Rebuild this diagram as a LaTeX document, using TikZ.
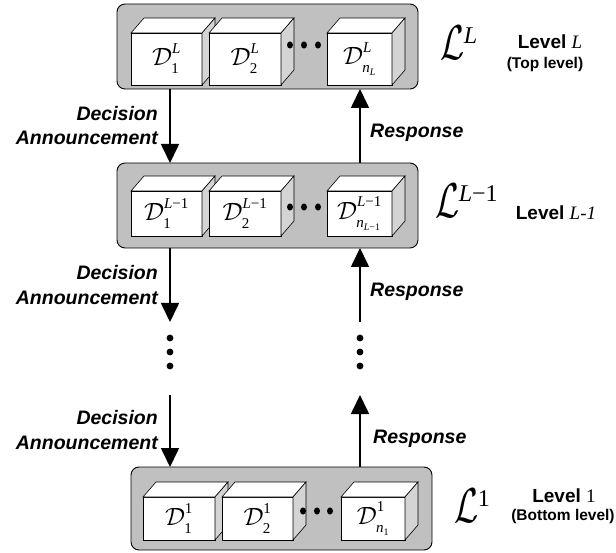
\RequirePackage{fix-cm}
\documentclass[tikz,border=0pt]{standalone}
\usepackage{fontspec}
\setmainfont{Liberation Sans}
\newfontfamily\tms{Liberation Serif}
\usetikzlibrary{arrows.meta}
\definecolor{panelgray}{HTML}{C0C0C0}
\definecolor{sidegray}{HTML}{D4D4D4}
\tikzset{
  panel/.style={draw=black, line width=0.9pt, fill=panelgray, rounded corners=8pt, inner sep=0pt, outer sep=0pt, anchor=north west},
  frontface/.style={draw=black, line width=0.6pt, fill=white, inner sep=0pt, outer sep=0pt, anchor=north west},
  face/.style={draw=black, line width=0.6pt, line join=miter},
  arr/.style={line width=1.7pt, -{Triangle[length=19pt,width=18pt]}},
  lab/.style={font=\fontsize{19.5}{24.5}\selectfont\bfseries\itshape, inner sep=0pt},
  lev/.style={font=\fontsize{19}{22}\selectfont\bfseries, inner sep=0pt},
  levsub/.style={font=\fontsize{15.5}{18}\selectfont\bfseries, inner sep=0pt},
  bigL/.style={font=\fontsize{35}{40}\selectfont, inner sep=0pt, anchor=base west},
  dotc/.style={fill=black}
}
% script text in a Times-like face
\newcommand\scr[1]{\hbox{\tms\fontsize{15}{15}\selectfont #1}}
\newcommand\sscr[1]{\raisebox{-3pt}{\tms\fontsize{10}{10}\selectfont #1}}
\newcommand\dlab[2]{\fontsize{25}{28}\selectfont$\mathcal{D}^{\raisebox{3.5pt}{\scr{#1}}}_{\raisebox{-1.5pt}{\scr{#2}}}$}
\newcommand\biglab[1]{\scalebox{1}[1.4]{$\mathcal{L}$}\kern-0.5pt\raisebox{16pt}{\tms\fontsize{24}{24}\selectfont #1}}
\newcommand\cubebox[7]{%
  \node[frontface, minimum width=#4pt, minimum height=#5pt] (#1) at (#2,#3) {\raisebox{#7pt}{#6}};
  \draw[face, fill=white] (#1.north west) -- ++(13,-15) -- ++(#4,0) -- (#1.north east) -- cycle;
  \draw[face, fill=sidegray] (#1.north east) -- ++(13,-15) -- ++(0,#5) -- (#1.south east) -- cycle;
}
\begin{document}
\begin{tikzpicture}[x=1pt,y=-1pt]
\useasboundingbox (0,0) rectangle (616,553);
% panels
\node[panel, minimum width=301pt, minimum height=85pt] (pT) at (117,4) {};
\node[panel, minimum width=301pt, minimum height=85pt] (pM) at (117,163) {};
\node[panel, minimum width=301pt, minimum height=83pt] (pB) at (131,467) {};
% top cubes
\cubebox{t1}{131}{33}{71}{52}{\dlab{\itshape L}{1}}{9}
\cubebox{t2}{209}{33}{72}{52}{\dlab{\itshape L}{2}}{9}
\cubebox{t3}{327}{33}{65}{52}{\dlab{\itshape L}{\itshape n\sscr{L}}}{9}
\foreach \xx in {290,304,318} \fill[dotc] (\xx,45) ellipse (3 and 3.6);
% middle cubes
\cubebox{m1}{131}{191}{71}{45}{\dlab{\itshape L\upshape −1}{1}}{1}
\cubebox{m2}{209}{191}{72}{45}{\dlab{\itshape L\upshape −1}{2}}{1}
\cubebox{m3}{327}{191}{65}{45}{\dlab{\itshape L\upshape −1}{\itshape n\sscr{L\upshape −1}}}{1}
\foreach \xx in {290,304,318} \fill[dotc] (\xx,207) ellipse (3 and 3.6);
% bottom cubes
\cubebox{b1}{143}{497}{72}{43}{\dlab{1}{1}}{4}
\cubebox{b2}{222}{497}{71}{43}{\dlab{1}{2}}{4}
\cubebox{b3}{341}{497}{64}{43}{\dlab{1}{\itshape n\sscr{\upshape 1}}}{4}
\foreach \xx in {303,317,330} \fill[dotc] (\xx,511) ellipse (3 and 3.6);
% arrow x positions and free ends
\coordinate (xl) at (170,0);
\coordinate (xr) at (360,0);
\coordinate (d2e) at (170,322);
\coordinate (u2s) at (360,322);
\coordinate (d3s) at (170,395);
\coordinate (u3e) at (360,395);
\draw[arr] (pT.south -| xl) -- (pM.north -| xl);
\draw[arr] (pM.north -| xr) -- (pT.south -| xr);
\draw[arr] (pM.south -| xl) -- (d2e);
\draw[arr] (u2s) -- (pM.south -| xr);
\draw[arr] (d3s) -- (pB.north -| xl);
\draw[arr] (pB.north -| xr) -- (u3e);
% vertical dots
\foreach \yy in {338,352,366} {\fill[dotc] (170,\yy) circle (3.4); \fill[dotc] (360,\yy) circle (3.4);}
% labels
\node[lab, align=right, anchor=east] (da1) at (158,125.5) {Decision\\Announcement};
\node[lab, align=right, anchor=east] (da2) at (158,285) {Decision\\Announcement};
\node[lab, align=right, anchor=east] (da3) at (158,430) {Decision\\Announcement};
\node[lab, anchor=west] (r1) at (370,133) {Response};
\node[lab, anchor=west] (r2) at (370,292) {Response};
\node[lab, anchor=west] (r3) at (373,439) {Response};
% level names
\node[bigL] (LL) at (440,60) {\biglab{\itshape L}};
\node[bigL] (LL1) at (435,218) {\biglab{\itshape L\upshape −1}};
\node[bigL] (L1) at (454,522) {\biglab{1}};
\node[lev] (lvT) at (550,42) {Level {\tms\itshape\mdseries L}};
\node[levsub] (lvTs) at (545,64) {(Top level)};
\node[lev] (lvM) at (556,213) {Level {\tms\itshape\mdseries L-1}};
\node[lev] (lvB) at (564,496) {Level {\tms\mdseries 1}};
\node[levsub] (lvBs) at (563,516) {(Bottom level)};
\end{tikzpicture}
\end{document}
